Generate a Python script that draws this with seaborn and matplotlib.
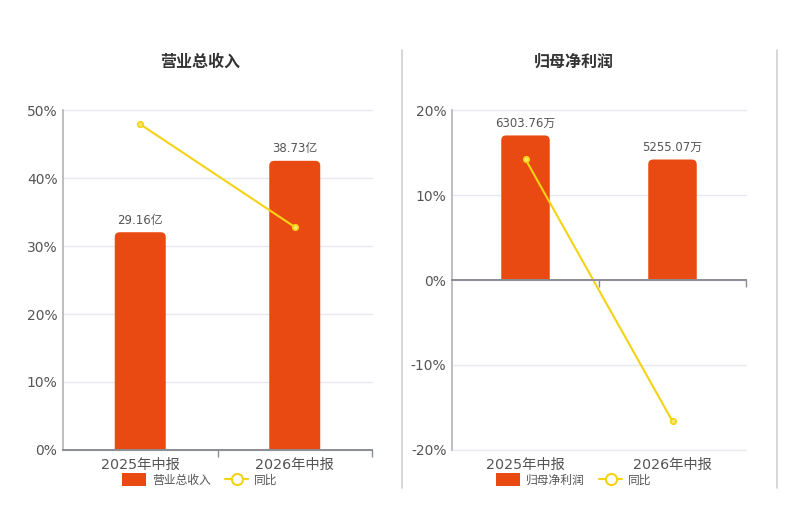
import numpy as np
import matplotlib
matplotlib.use("Agg")
import matplotlib.pyplot as plt
from matplotlib.patches import FancyBboxPatch, Rectangle, Patch
from matplotlib.lines import Line2D
import seaborn as sns

# ---- data ----
periods = ["2025年中报", "2026年中报"]
revenue = [29.16, 38.73]            # 亿
revenue_labels = ["29.16亿", "38.73亿"]
revenue_yoy = [47.94, 32.82]        # %
profit = [6303.76, 5255.07]         # 万
profit_labels = ["6303.76万", "5255.07万"]
profit_yoy = [14.23, -16.64]        # %

sns.set_theme(style="white")
plt.rcParams['font.family'] = ['DejaVu Sans', 'Noto Sans CJK SC']

BAR = "#e84a12"
LINE = "#f4d214"
GRID = "#e6e9f2"
TXT = "#555555"

W, H = 800, 508
fig = plt.figure(figsize=(8, 5.08), dpi=100)
fig.patch.set_facecolor("white")


def fx(px):
    return px / W


def fy(py):
    return 1 - py / H


def round_bars(ax, r_px, color):
    p0 = ax.transData.transform((0, 0))
    p1 = ax.transData.transform((1, 1))
    sx, sy = p1[0] - p0[0], p1[1] - p0[1]
    for p in list(ax.patches):
        x, y, w, h = p.get_x(), p.get_y(), p.get_width(), p.get_height()
        extra = r_px / sy
        fb = FancyBboxPatch((x, y - extra), w, h + extra,
                            boxstyle=f"round,pad=0,rounding_size={r_px / sx}",
                            mutation_aspect=sx / sy, fc=color, ec="none", zorder=2)
        ax.add_patch(fb)
        clip = Rectangle((x - w, y), 3 * w, h * 2, transform=ax.transData)
        fb.set_clip_path(clip)
        p.set_visible(False)


def panel(left_px, right_px, vals, labels, yoy, pct_lim, pct_ticks, bar_lim, zero_mid):
    rect = [fx(left_px), fy(449.8), fx(right_px) - fx(left_px), fy(110.3) - fy(449.8)]
    ax_pct = fig.add_axes(rect)
    ax_bar = ax_pct.twinx()
    ax_bar.set_zorder(1)
    ax_pct.set_zorder(2)
    ax_pct.patch.set_visible(False)

    sns.barplot(x=periods, y=vals, ax=ax_bar, color=BAR, width=0.33, saturation=1)
    ax_bar.set_ylim(*bar_lim)
    ax_bar.set_yticks(np.linspace(bar_lim[0], bar_lim[1], len(pct_ticks)))
    ax_bar.grid(axis="y", color=GRID, lw=1)
    for gl in ax_bar.get_ygridlines():
        gl.set_clip_on(False)
    ax_bar.set_axisbelow(True)
    ax_bar.tick_params(axis="y", right=False, labelright=False)
    for s in ax_bar.spines.values():
        s.set_visible(False)
    ax_bar.set_ylabel("")
    ax_bar.bar_label(ax_bar.containers[0], labels=labels, padding=4,
                     fontsize=8.5, color=TXT)

    sns.pointplot(x=periods, y=yoy, ax=ax_pct, color=LINE, markers="o",
                  linestyles="-", linewidth=1.5, markersize=4,
                  markerfacecolor="#fbe766", markeredgecolor=LINE)
    ax_pct.set_ylim(*pct_lim)
    ax_pct.set_yticks(pct_ticks)
    ax_pct.set_yticklabels([f"{t}%" for t in pct_ticks])
    ax_pct.set_xlim(-0.5, 1.5)
    ax_bar.set_xlim(-0.5, 1.5)
    ax_pct.set_xlabel("")
    ax_pct.set_ylabel("")
    ax_pct.tick_params(axis="y", length=0, labelsize=10, labelcolor=TXT, pad=4)
    ax_pct.tick_params(axis="x", which="major", length=0, labelsize=10.3,
                       labelcolor=TXT, pad=6)
    ax_pct.set_xticks([0.5, 1.5], minor=True)
    ax_pct.spines["right"].set_visible(False)
    ax_pct.spines["left"].set_color("#b0b3ba")
    ax_pct.spines["left"].set_linewidth(1.2)
    if zero_mid:
        ax_pct.spines["bottom"].set_visible(False)
        ax_pct.spines["top"].set_position(("data", 0))
        ax_pct.spines["top"].set_color("#8a8d94")
        ax_pct.spines["top"].set_linewidth(1.4)
        ax_pct.tick_params(axis="x", which="minor", top=True, bottom=False,
                           direction="in", length=5, color="#8a8d94")
    else:
        ax_pct.spines["top"].set_visible(False)
        ax_pct.spines["bottom"].set_color("#8a8d94")
        ax_pct.spines["bottom"].set_linewidth(1.4)
        ax_pct.tick_params(axis="x", which="minor", bottom=True, direction="out",
                           length=5, color="#8a8d94")
    round_bars(ax_bar, 5, BAR)
    return ax_pct


panel(63, 372, revenue, revenue_labels, revenue_yoy, (0, 50),
      [0, 10, 20, 30, 40, 50], (0, 45.5), False)
panel(452, 746, profit, profit_labels, profit_yoy, (-20, 20),
      [-20, -10, 0, 10, 20], (-7400, 7400), True)

# titles
fig.text(fx(200), fy(62), "营业总收入", ha="center", va="center",
         fontsize=11.5, weight="bold", color="#333333")
fig.text(fx(574), fy(62), "归母净利润", ha="center", va="center",
         fontsize=11.5, weight="bold", color="#333333")

# separators
for xp in (402, 777):
    fig.add_artist(Line2D([fx(xp), fx(xp)], [fy(50), fy(488)],
                          color="#cfcfcf", lw=1.2))

# legends
for cx, name in ((200, "营业总收入"), (574, "归母净利润")):
    handles = [Patch(facecolor=BAR, edgecolor="none", label=name),
               Line2D([0], [0], color=LINE, lw=1.5, marker="o", markersize=8,
                      markerfacecolor="white", markeredgecolor=LINE,
                      markeredgewidth=1.5, label="同比")]
    fig.legend(handles=handles, loc="center", bbox_to_anchor=(fx(cx), fy(480)),
               ncol=2, frameon=False, fontsize=8.5, handlelength=2.0,
               handleheight=1.2, columnspacing=1.2, handletextpad=0.5,
               labelcolor=TXT)

fig.savefig("out.png", dpi=100, facecolor="white")
